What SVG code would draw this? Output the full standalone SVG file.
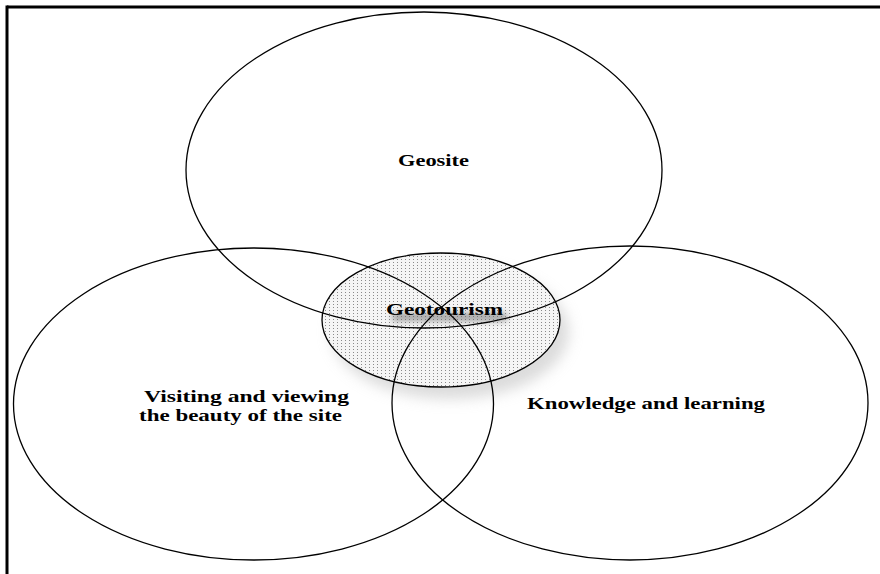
<svg xmlns="http://www.w3.org/2000/svg" width="880" height="574" viewBox="0 0 880 574">
<style>
.big{fill:none;stroke:#000;stroke-width:1.3}
.lbl{font-family:"Liberation Serif","Times New Roman",serif;font-weight:bold;font-size:16px;fill:#000;text-anchor:middle}
</style>
<defs>
<pattern id="dots" width="4" height="3" patternUnits="userSpaceOnUse">
<rect width="4" height="3" fill="#f5f5f5"/>
<rect x="1" y="1" width="1" height="1" fill="#8a8a8a"/>
</pattern>
<filter id="shadow" x="-30%" y="-30%" width="160%" height="160%">
<feGaussianBlur stdDeviation="7"/>
</filter>
<filter id="tshadow" x="-20%" y="-100%" width="140%" height="300%">
<feGaussianBlur stdDeviation="3"/>
</filter>
</defs>
<rect width="880" height="574" fill="#fff"/>
<g id="frame">
<line x1="7" y1="7" x2="880" y2="7" stroke="#000" stroke-width="3"/>
<line x1="7" y1="5.5" x2="7" y2="574" stroke="#000" stroke-width="3"/>
</g>
<g id="geotourism">
<ellipse cx="450" cy="332" rx="119" ry="67" fill="#c4c4c4" filter="url(#shadow)" opacity="0.6"/>
<ellipse cx="441" cy="320" rx="119" ry="67" fill="url(#dots)" stroke="#000" stroke-width="1.3"/>
<rect x="392" y="313" width="115" height="8" fill="#666" filter="url(#tshadow)" opacity="0.6"/>
<text class="lbl" x="444.5" y="315" textLength="117" lengthAdjust="spacingAndGlyphs">Geotourism</text>
</g>
<g id="geosite">
<ellipse class="big" cx="424" cy="170" rx="238" ry="158"/>
<text class="lbl" x="433.5" y="166" textLength="71" lengthAdjust="spacingAndGlyphs">Geosite</text>
</g>
<g id="visiting">
<ellipse class="big" cx="253.5" cy="404" rx="240" ry="156"/>
<text class="lbl" x="246.5" y="402" textLength="205" lengthAdjust="spacingAndGlyphs">Visiting and viewing</text>
<text class="lbl" x="240.5" y="421" textLength="203" lengthAdjust="spacingAndGlyphs">the beauty of the site</text>
</g>
<g id="knowledge">
<ellipse class="big" cx="630" cy="403" rx="238" ry="157"/>
<text class="lbl" x="646" y="409" textLength="238" lengthAdjust="spacingAndGlyphs">Knowledge and learning</text>
</g>
<g id="connectors"/>
</svg>
